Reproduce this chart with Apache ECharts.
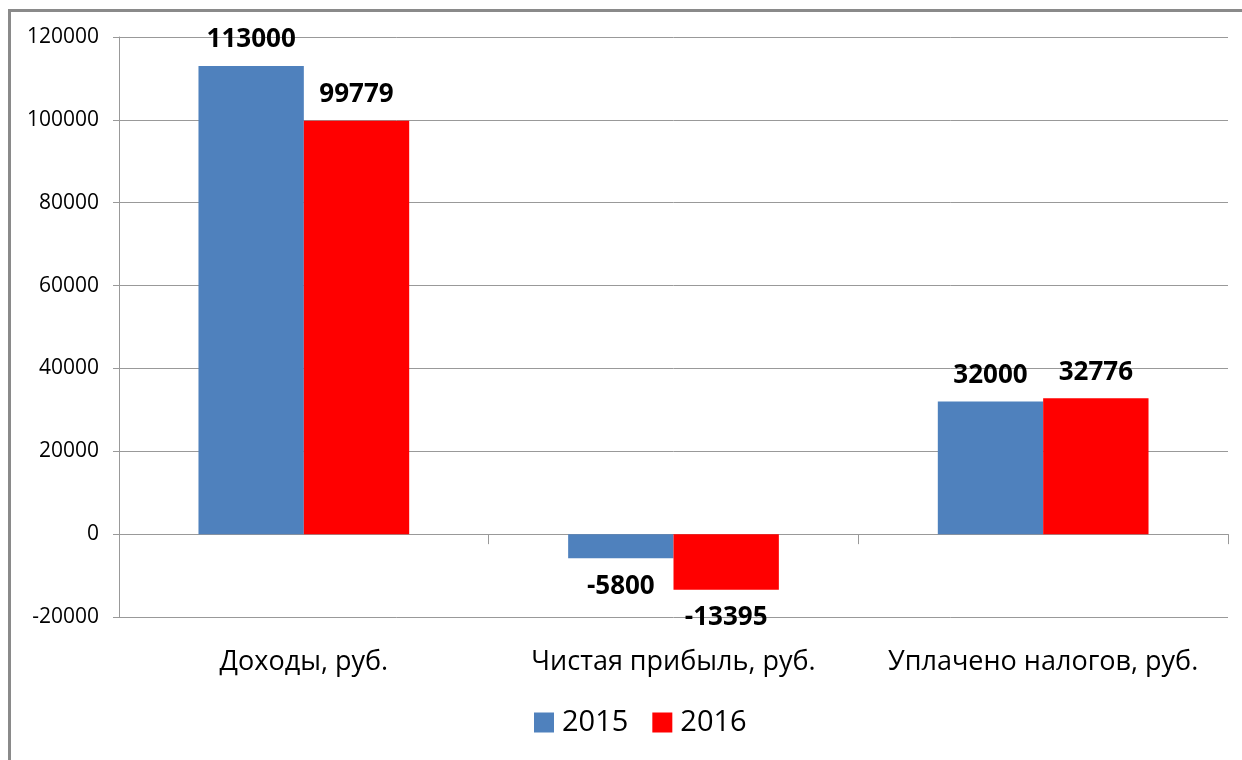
<!DOCTYPE html>
<html>
<head>
<meta charset="utf-8">
<title>chart</title>
<script src="https://cdn.jsdelivr.net/npm/echarts@6/dist/echarts.min.js"></script>
<style>
    html, body { margin: 0; padding: 0; background: #fff; overflow: hidden; }
    #frame { position: absolute; left: 8px; top: 9px; width: 1300px; height: 800px;
             border: 3px solid #8a8a8a; box-sizing: border-box; }
    #main { position: absolute; left: 0; top: 0; width: 1242px; height: 760px; }
</style>
</head>
<body>
<div id="frame"></div>
<div id="main"></div>
<script type="text/javascript">
    // данные
    var categories = ['Доходы, руб.', 'Чистая прибыль, руб.', 'Уплачено налогов, руб.'];
    var values2015 = [113000, -5800, 32000];
    var values2016 = [99779, -13395, 32776];
    var seriesNames = ['2015', '2016'];

    var myChart = echarts.init(document.getElementById('main'));

    function barLabel() {
        return {
            show: true,
            position: 'top',
            distance: 13,
            fontFamily: 'Open Sans',
            fontWeight: 'bold',
            fontSize: 26,
            color: '#000'
        };
    }

    function makeData(arr) {
        // отрицательные подписи - под столбцом
        return arr.map(function (v) {
            if (v < 0) {
                return { value: v, label: { position: 'bottom', distance: 15 } };
            }
            return v;
        });
    }

    myChart.setOption({
        animation: false,
        grid: { left: 119, right: 14, top: 37, bottom: 143 },
        legend: {
            data: seriesNames,
            bottom: 18,
            left: 529,
            itemWidth: 20,
            itemHeight: 20,
            itemGap: 24,
            icon: 'rect',
            textStyle: { fontFamily: 'Open Sans', fontSize: 29, color: '#000', padding: [0, 0, 0, 3] }
        },
        xAxis: [{
            type: 'category',
            data: categories,
            axisLine: { show: false, onZero: false },
            axisTick: { show: false },
            axisLabel: { interval: 0, margin: 32, fontFamily: 'Open Sans', fontSize: 27, color: '#000' }
        }, {
            type: 'category',
            data: categories,
            position: 'bottom',
            axisLine: { show: true, onZero: true, lineStyle: { color: '#999', width: 1 } },
            axisTick: { show: true, length: 10, inside: false, lineStyle: { color: '#999' } },
            axisLabel: { show: false }
        }],
        yAxis: {
            type: 'value',
            min: -20000,
            max: 120000,
            interval: 20000,
            axisLine: { show: true, lineStyle: { color: '#999' } },
            axisTick: { show: true, length: 6, lineStyle: { color: '#999' } },
            axisLabel: {
                margin: 20, fontFamily: 'Open Sans', fontSize: 21, color: '#000',
                formatter: function (v) { return String(v); }
            },
            splitLine: { lineStyle: { color: '#999', width: 1 } }
        },
        series: [{
            name: seriesNames[0],
            type: 'bar',
            data: makeData(values2015),
            barGap: '0%',
            barCategoryGap: '43%',
            itemStyle: { color: '#4F81BD' },
            label: barLabel()
        }, {
            name: seriesNames[1],
            type: 'bar',
            data: makeData(values2016),
            barGap: '0%',
            barCategoryGap: '43%',
            itemStyle: { color: '#FF0000' },
            label: barLabel()
        }]
    });
</script>
</body>
</html>
